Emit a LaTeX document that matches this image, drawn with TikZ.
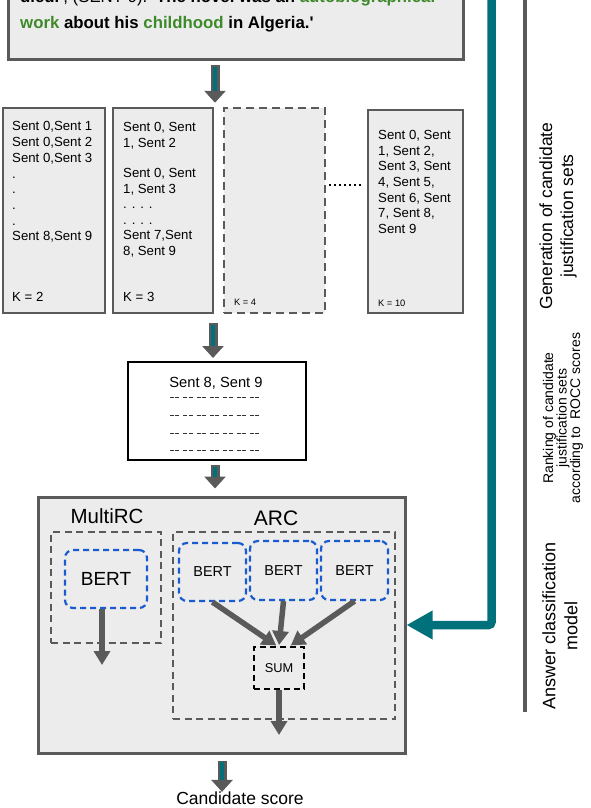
\documentclass[tikz,border=0pt]{standalone}
\usepackage{fontspec}
\setmainfont{Liberation Sans}
\usetikzlibrary{arrows.meta,calc}
\definecolor{boxfill}{HTML}{ECECEC}
\definecolor{boxline}{HTML}{5A5A5A}
\definecolor{tealc}{HTML}{00707A}
\definecolor{bluec}{HTML}{1A5CCF}
\definecolor{greenc}{HTML}{3E8A2A}
\newcommand{\fsz}[2]{\fontsize{#1pt}{#2pt}\selectfont}
\newcommand{\blkarrow}[2]{%
  \draw[blkouter] #1 -- #2;
  \draw[blkinner] #1 -- #2;}
\begin{document}
\begin{tikzpicture}[x=1pt,y=-1pt,
  solidbox/.style={draw=boxline, fill=boxfill, line width=2.5pt, inner sep=0pt},
  dashbox/.style={draw=boxline, fill=boxfill, line width=2.5pt, dash pattern=on 8pt off 5pt, inner sep=0pt},
  grpbox/.style={draw=boxline, line width=2.2pt, dash pattern=on 7pt off 4.5pt, inner sep=0pt},
  bertbox/.style={draw=bluec, line width=2.2pt, dash pattern=on 6pt off 4pt, rounded corners=8pt, inner sep=0pt},
  sumbox/.style={draw=black, line width=2pt, dash pattern=on 6pt off 4pt, inner sep=0pt},
  ktxt/.style={inner sep=0pt, align=left, anchor=north west, font=\fsz{13.2}{15.7}},
  lbl/.style={inner sep=0pt, anchor=base west},
  blkouter/.style={draw=boxline, line width=9pt, -{Triangle[width=21pt,length=12pt]}},
  blkinner/.style={draw=tealc, line width=3.5pt, shorten >=12pt, shorten <=1.5pt},
  garrow/.style={draw=boxline, line width=5.5pt, -{Triangle[width=16pt,length=14pt]}},
  sidelbl/.style={rotate=90, align=center, inner sep=0pt},
  dashrow/.style={draw=black!80, line width=1.1pt, dash pattern=on 4pt off 1.3pt on 4pt off 4pt},
]
\useasboundingbox (0,0) rectangle (590,808);
\clip (0,0) rectangle (590,808);

% ---- top question box
\node[solidbox, line width=3pt, minimum width=455pt, minimum height=80pt] (top) at (235.5,20) {};
\node[lbl, font=\fsz{16.8}{20}\bfseries] (l1) at (20,3)
  {died.\textquotesingle{}\mdseries, (SENT 9).\bfseries\ \textquotesingle{}The novel was an \textcolor{greenc}{autobiographical}};
\node[lbl, font=\fsz{16.8}{20}\bfseries] (l2) at (20,29)
  {\textcolor{greenc}{work} about his \textcolor{greenc}{childhood} in Algeria.\textquotesingle};

% ---- candidate sets
\node[solidbox, minimum width=102pt, minimum height=205pt] (k1) at (54,210.5) {};
\node[solidbox, minimum width=100pt, minimum height=205pt] (k2) at (163,210.5) {};
\node[dashbox, minimum width=101pt, minimum height=205pt] (k3) at (274.5,210.5) {};
\node[solidbox, minimum width=95pt, minimum height=203pt] (k4) at (415.5,211.5) {};

\node[ktxt] (t1) at (12,121.5) {Sent 0,Sent 1\\Sent 0,Sent 2\\Sent 0,Sent 3\\.\\.\\.\\.\\Sent 8,Sent 9};
\node[ktxt, font=\fsz{13.2}{15.5}] (t2) at (123,122.5) {Sent 0, Sent\\1, Sent 2\\[15pt]Sent 0, Sent\\1, Sent 3\\. . . .\\. . . .\\Sent 7,Sent\\8, Sent 9};
\node[ktxt] (t4) at (378,130) {Sent 0, Sent\\1, Sent 2,\\Sent 3, Sent\\4, Sent 5,\\Sent 6, Sent\\7, Sent 8,\\Sent 9};
\node[lbl, font=\fsz{13.2}{15}] (kl1) at (12,301) {K = 2};
\node[lbl, font=\fsz{13.2}{15}] (kl2) at (123,301) {K = 3};
\node[lbl, font=\fsz{9.3}{11}] (kl3) at (234,305.5) {K = 4};
\node[lbl, font=\fsz{9.3}{11}] (kl4) at (378,306.5) {K = 10};

\coordinate (dotrow) at (0,185);
\draw[black, line width=1.6pt, dash pattern=on 1.6pt off 3.4pt, shorten <=3pt, shorten >=5pt]
  (k3.east |- dotrow) -- (k4.west |- dotrow);

% ---- ranking box
\node[draw=black, fill=white, line width=2pt, minimum width=178pt, minimum height=98pt, inner sep=0pt] (rank) at (217,411) {};
\node[inner sep=0pt, anchor=base, font=\fsz{14.7}{16}] (r1) at (216,387) {Sent 8, Sent 9};
\foreach \yy in {397.7,415.7,433.3,450.5} {
  \draw[dashrow] (170,\yy) -- (263,\yy);
}

% ---- answer classification model
\node[solidbox, line width=3pt, minimum width=367pt, minimum height=256pt] (big) at (221.5,625) {};
\node[inner sep=0pt, font=\fsz{20.5}{22}] (mrc) at (107,516) {MultiRC};
\node[inner sep=0pt, font=\fsz{21}{22}] (arc) at (276,518) {ARC};
\node[grpbox, minimum width=110pt, minimum height=111pt] (mbox) at (106,587.5) {};
\node[grpbox, minimum width=222pt, minimum height=187pt] (abox) at (284,625.5) {};
\node[bertbox, minimum width=82pt, minimum height=58pt, font=\fsz{19}{20}] (bert) at (106,579) {BERT};
\node[bertbox, minimum width=67pt, minimum height=58pt, font=\fsz{14.4}{16}] (b1) at (212.5,572) {BERT};
\node[bertbox, minimum width=67pt, minimum height=59pt, font=\fsz{14.4}{16}] (b2) at (283.5,570.5) {BERT};
\node[bertbox, minimum width=67pt, minimum height=59pt, font=\fsz{14.4}{16}] (b3) at (354.5,570.5) {BERT};
\node[sumbox, minimum width=50pt, minimum height=42pt, font=\fsz{12.8}{14}] (sum) at (279,668) {SUM};

\coordinate (mout) at (102,665);
\coordinate (sout) at (279,735);
\draw[garrow] (bert.south -| mout) -- (mout);
\draw[garrow, shorten >=1pt] (b1.south) -- ([xshift=-2pt]sum.north);
\draw[garrow, shorten >=1pt] (b2.south) -- (sum.north);
\draw[garrow, shorten >=1pt] (b3.south) -- ([xshift=11pt]sum.north);
\draw[garrow] (sum.south) -- (sout);

% ---- output
\node[inner sep=0pt, font=\fsz{17.5}{19}] (cand) at (240,798.5) {Candidate score};

% ---- block arrows
\coordinate (a1x) at (215,0);
\coordinate (a2x) at (213,0);
\coordinate (a4x) at (222,0);
\blkarrow{($(top.south -| a1x)+(0,4)$)}{($(k2.north -| a1x)+(0,-4)$)}
\blkarrow{($(k2.south -| a2x)+(0,9)$)}{($(rank.north -| a2x)+(0,-3)$)}
\blkarrow{($(rank.south -| a1x)+(0,4)$)}{($(big.north -| a1x)+(0,-7)$)}
\blkarrow{($(big.south -| a4x)+(0,6)$)}{($(cand.north -| a4x)+(0,0)$)}

% ---- feedback arrow and side line
\coordinate (tealtop) at (491.5,-10);
\draw[tealc, line width=8.5pt, rounded corners=3pt, -{Triangle[width=27pt,length=26pt]}]
  (tealtop) -- (tealtop |- big.east) -- (big.east);
\coordinate (sidetop) at (525,-5);
\coordinate (sidebot) at (525,712);
\draw[boxline, line width=3.5pt] (sidetop) -- (sidebot);

% ---- side labels
\node[sidelbl, font=\fsz{17.5}{21}] (s1) at (558,216) {Generation of candidate\\justification sets};
\node[sidelbl, font=\fsz{14}{13.5}] (s2) at (563,418) {Ranking of candidate\\justification sets\\according to~ ROCC scores};
\node[sidelbl, font=\fsz{18}{22}] (s3) at (560,626) {Answer classification\\model};
\end{tikzpicture}
\end{document}
